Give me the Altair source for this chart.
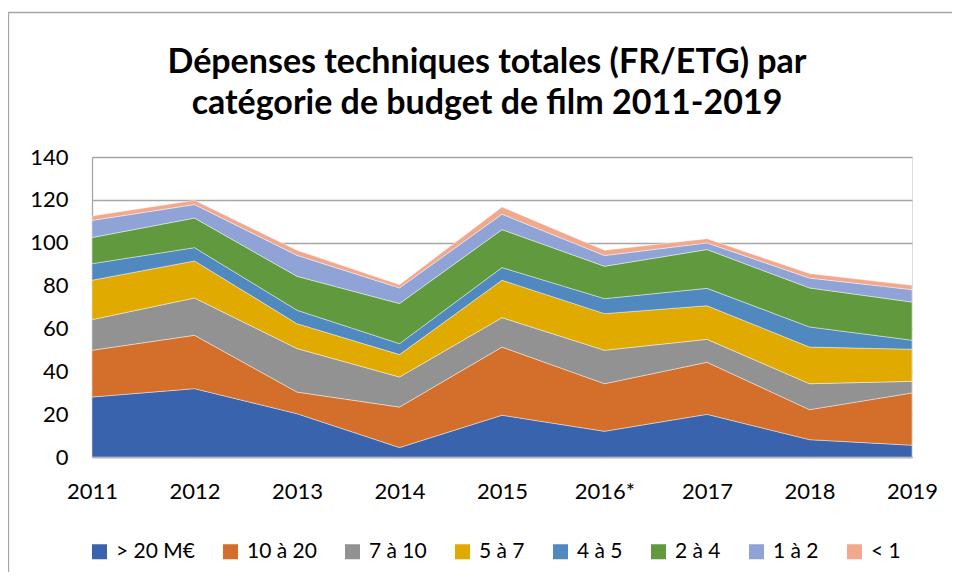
import altair as alt
import pandas as pd

years = ["2011", "2012", "2013", "2014", "2015", "2016*", "2017", "2018", "2019"]
series = ["> 20 M€", "10 à 20", "7 à 10", "5 à 7", "4 à 5", "2 à 4", "1 à 2", "< 1"]
colors = ["#3A63AD", "#D36E2B", "#929292", "#E1AA00", "#4F89BF", "#619A3E", "#8FA3D6", "#F1A98D"]

v_gt20 = [28.0, 31.9, 20.2, 4.4, 19.5, 12.0, 19.9, 8.1, 5.5]
v_10_20 = [21.8, 24.9, 10.1, 18.9, 31.8, 22.2, 24.3, 14.0, 24.4]
v_7_10 = [14.3, 17.4, 20.3, 14.0, 13.7, 15.6, 10.7, 12.1, 5.4]
v_5_7 = [18.4, 17.3, 11.6, 10.5, 17.5, 17.1, 15.7, 17.1, 15.0]
v_4_5 = [7.7, 6.2, 6.3, 5.1, 5.9, 7.0, 8.1, 9.4, 4.2]
v_2_4 = [12.2, 13.8, 15.8, 18.7, 17.7, 15.1, 18.1, 18.2, 17.8]
v_1_2 = [8.0, 6.3, 9.8, 7.3, 7.2, 5.0, 3.1, 4.6, 5.8]
v_lt1 = [2.1, 2.0, 2.4, 1.5, 3.4, 2.5, 2.0, 2.1, 2.0]

values = [v_gt20, v_10_20, v_7_10, v_5_7, v_4_5, v_2_4, v_1_2, v_lt1]

rows = []
for i, (name, vals) in enumerate(zip(series, values)):
    for y, v in zip(years, vals):
        rows.append({"annee": y, "categorie": name, "valeur": v, "ordre": i})
df = pd.DataFrame(rows)

FONT = "Lato"

area = alt.Chart(df).mark_area(
    stroke="white", strokeWidth=0.6, strokeOpacity=0.7, opacity=1
).encode(
    x=alt.X("annee:O", sort=years, scale=alt.Scale(type="point", padding=0),
            axis=alt.Axis(title=None, labelAngle=0, labelFontSize=22, labelFont=FONT,
                          labelColor="#000000", labelPadding=24, ticks=False,
                          domainColor="#A6A6A6", domainWidth=1.3, grid=False)),
    y=alt.Y("valeur:Q", stack="zero",
            scale=alt.Scale(domain=[0, 140], nice=False),
            axis=alt.Axis(title=None, values=[0, 20, 40, 60, 80, 100, 120, 140],
                          labelFontSize=22, labelFont=FONT, labelColor="#000000",
                          labelPadding=24, ticks=False, domainColor="#A6A6A6",
                          domainWidth=1.3, gridColor="#A6A6A6", gridWidth=1.3)),
    color=alt.Color("categorie:N", sort=series,
                    scale=alt.Scale(domain=series, range=colors),
                    legend=alt.Legend(title=None, orient="none", legendX=-3, legendY=384,
                                      direction="horizontal", symbolType="square",
                                      symbolSize=225, symbolStrokeWidth=0,
                                      labelFontSize=21, labelFont=FONT,
                                      labelColor="#000000", labelOffset=6,
                                      columnPadding=25, labelLimit=0)),
    order=alt.Order("ordre:Q", sort="ascending"),
)

border_top = alt.Chart(pd.DataFrame({"a": [0]})).mark_rule(
    color="#A6A6A6", strokeWidth=1.3, clip=False
).encode(x=alt.value(-84), x2=alt.value(870), y=alt.value(-144.5))

border_left = alt.Chart(pd.DataFrame({"a": [0]})).mark_rule(
    color="#A6A6A6", strokeWidth=1.3, clip=False
).encode(x=alt.value(-83.5), y=alt.value(-145), y2=alt.value(430))

chart = alt.layer(area, border_top, border_left).properties(
    width=820,
    height=300,
    autosize=alt.AutoSizeParams(type="none"),
    padding={"left": 84, "top": 149, "right": 40, "bottom": 115},
    title=alt.Title(
        ["Dépenses techniques totales (FR/ETG) par", "catégorie de budget de film 2011-2019"],
        fontSize=34, font=FONT, fontWeight="bold", color="#000000",
        anchor="middle", lineHeight=41, offset=-110, dx=-15,
    ),
).configure_view(stroke=None).configure(background="white")

chart.save("out.html", embed_options={"renderer": "svg", "actions": False})
